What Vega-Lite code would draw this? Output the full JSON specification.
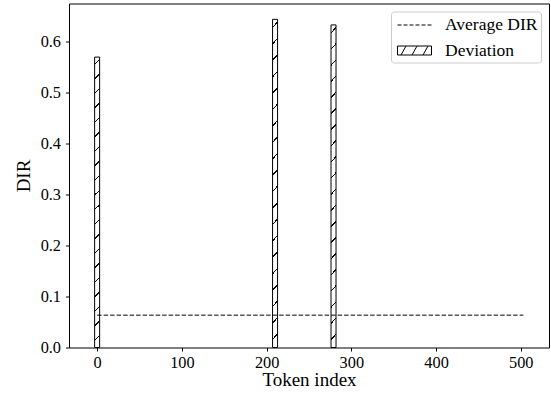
{
  "$schema": "https://vega.github.io/schema/vega-lite/v6.json",
  "autosize": {"type": "none"},
  "padding": {"left": 69, "top": 3.5, "right": 2, "bottom": 51.5},
  "width": 480,
  "height": 344,
  "background": "white",
  "config": {
    "font": "Liberation Serif",
    "view": {"stroke": "black", "strokeWidth": 1},
    "axis": {
      "grid": false,
      "domain": false,
      "tickColor": "black",
      "tickSize": 3.5,
      "tickWidth": 1,
      "labelColor": "black",
      "labelFont": "Liberation Serif",
      "labelFontSize": 16.3,
      "titleFont": "Liberation Serif",
      "titleFontSize": 19,
      "titleFontWeight": "normal",
      "titleColor": "black",
      "labelOverlap": false,
      "labelFlush": false
    },
    "legend": {
      "labelFont": "Liberation Serif",
      "labelFontSize": 17.5,
      "labelColor": "black"
    }
  },
  "datasets": {
    "deviation": [
      {"token": 0, "dir": 0.569, "series": "Deviation"},
      {"token": 210, "dir": 0.643, "series": "Deviation"},
      {"token": 279, "dir": 0.632, "series": "Deviation"}
    ],
    "average": [
      {"start": 0, "end": 503, "dir": 0.0634, "series": "Average DIR"}
    ]
  },
  "layer": [
    {
      "data": {"name": "deviation"},
      "mark": {
        "type": "bar",
        "width": 5,
        "strokeWidth": 1,
        "stroke": "black",
        "fill": {
          "gradient": "linear",
          "x1": 0, "y1": 0, "x2": 0.017, "y2": 1,
          "stops": [
            {"offset": 0, "color": "white"},
            {"offset": 0.0225, "color": "white"}, {"offset": 0.0225, "color": "black"}, {"offset": 0.0275, "color": "black"}, {"offset": 0.0275, "color": "white"},
            {"offset": 0.0725, "color": "white"}, {"offset": 0.0725, "color": "black"}, {"offset": 0.0775, "color": "black"}, {"offset": 0.0775, "color": "white"},
            {"offset": 0.1225, "color": "white"}, {"offset": 0.1225, "color": "black"}, {"offset": 0.1275, "color": "black"}, {"offset": 0.1275, "color": "white"},
            {"offset": 0.1725, "color": "white"}, {"offset": 0.1725, "color": "black"}, {"offset": 0.1775, "color": "black"}, {"offset": 0.1775, "color": "white"},
            {"offset": 0.2225, "color": "white"}, {"offset": 0.2225, "color": "black"}, {"offset": 0.2275, "color": "black"}, {"offset": 0.2275, "color": "white"},
            {"offset": 0.2725, "color": "white"}, {"offset": 0.2725, "color": "black"}, {"offset": 0.2775, "color": "black"}, {"offset": 0.2775, "color": "white"},
            {"offset": 0.3225, "color": "white"}, {"offset": 0.3225, "color": "black"}, {"offset": 0.3275, "color": "black"}, {"offset": 0.3275, "color": "white"},
            {"offset": 0.3725, "color": "white"}, {"offset": 0.3725, "color": "black"}, {"offset": 0.3775, "color": "black"}, {"offset": 0.3775, "color": "white"},
            {"offset": 0.4225, "color": "white"}, {"offset": 0.4225, "color": "black"}, {"offset": 0.4275, "color": "black"}, {"offset": 0.4275, "color": "white"},
            {"offset": 0.4725, "color": "white"}, {"offset": 0.4725, "color": "black"}, {"offset": 0.4775, "color": "black"}, {"offset": 0.4775, "color": "white"},
            {"offset": 0.5225, "color": "white"}, {"offset": 0.5225, "color": "black"}, {"offset": 0.5275, "color": "black"}, {"offset": 0.5275, "color": "white"},
            {"offset": 0.5725, "color": "white"}, {"offset": 0.5725, "color": "black"}, {"offset": 0.5775, "color": "black"}, {"offset": 0.5775, "color": "white"},
            {"offset": 0.6225, "color": "white"}, {"offset": 0.6225, "color": "black"}, {"offset": 0.6275, "color": "black"}, {"offset": 0.6275, "color": "white"},
            {"offset": 0.6725, "color": "white"}, {"offset": 0.6725, "color": "black"}, {"offset": 0.6775, "color": "black"}, {"offset": 0.6775, "color": "white"},
            {"offset": 0.7225, "color": "white"}, {"offset": 0.7225, "color": "black"}, {"offset": 0.7275, "color": "black"}, {"offset": 0.7275, "color": "white"},
            {"offset": 0.7725, "color": "white"}, {"offset": 0.7725, "color": "black"}, {"offset": 0.7775, "color": "black"}, {"offset": 0.7775, "color": "white"},
            {"offset": 0.8225, "color": "white"}, {"offset": 0.8225, "color": "black"}, {"offset": 0.8275, "color": "black"}, {"offset": 0.8275, "color": "white"},
            {"offset": 0.8725, "color": "white"}, {"offset": 0.8725, "color": "black"}, {"offset": 0.8775, "color": "black"}, {"offset": 0.8775, "color": "white"},
            {"offset": 0.9225, "color": "white"}, {"offset": 0.9225, "color": "black"}, {"offset": 0.9275, "color": "black"}, {"offset": 0.9275, "color": "white"},
            {"offset": 0.9725, "color": "white"}, {"offset": 0.9725, "color": "black"}, {"offset": 0.9775, "color": "black"}, {"offset": 0.9775, "color": "white"},
            {"offset": 1, "color": "white"}
          ]
        }
      },
      "encoding": {
        "x": {
          "field": "token",
          "type": "quantitative",
          "scale": {"domain": [-27.3, 527.4], "nice": false, "zero": false},
          "axis": {
            "title": "Token index",
            "values": [0, 100, 200, 300, 400, 500],
            "labelPadding": 3,
            "titlePadding": 0
          }
        },
        "y": {
          "field": "dir",
          "type": "quantitative",
          "scale": {"domain": [0, 0.674], "nice": false},
          "axis": {
            "title": "DIR",
            "values": [0, 0.1, 0.2, 0.3, 0.4, 0.5, 0.6],
            "format": ".1f",
            "labelPadding": 5,
            "titlePadding": 7
          }
        }
      }
    },
    {
      "data": {"name": "average"},
      "mark": {"type": "rule", "strokeDash": [4.5, 2], "strokeWidth": 1, "stroke": "black"},
      "encoding": {
        "x": {"field": "start", "type": "quantitative"},
        "x2": {"field": "end"},
        "y": {"field": "dir", "type": "quantitative"}
      }
    },
    {
      "data": {"name": "deviation"},
      "mark": {"type": "point", "opacity": 0, "color": "black", "filled": false},
      "encoding": {
        "x": {"field": "token", "type": "quantitative"},
        "y": {"field": "dir", "type": "quantitative"},
        "shape": {
          "field": "series",
          "type": "nominal",
          "scale": {
            "domain": ["Average DIR", "Deviation"],
            "range": [
              "M-1.7,0H-1.3M-1.1,0H-0.7M-0.5,0H-0.1M0.1,0H0.5M0.7,0H1.1M1.3,0H1.7",
              "M-1.7,-0.45H1.7V0.45H-1.7Z M-1.35,0.45L-0.85,-0.45 M-0.25,0.45L0.25,-0.45 M0.85,0.45L1.35,-0.45"
            ]
          },
          "legend": {
            "title": null,
            "orient": "top-right",
            "offset": 8,
            "padding": 3,
            "strokeColor": "#cccccc",
            "cornerRadius": 3,
            "fillColor": "white",
            "symbolSize": 400,
            "symbolOffset": 10,
            "symbolStrokeWidth": 1,
            "symbolStrokeColor": "black",
            "symbolFillColor": "transparent",
            "labelOffset": 20,
            "rowPadding": 6.5,
            "encode": {
              "symbols": {
                "stroke": {"value": "black"},
                "fill": {"value": "transparent"},
                "strokeWidth": {"value": 1},
                "opacity": {"value": 1}
              }
            }
          }
        }
      }
    }
  ]
}
